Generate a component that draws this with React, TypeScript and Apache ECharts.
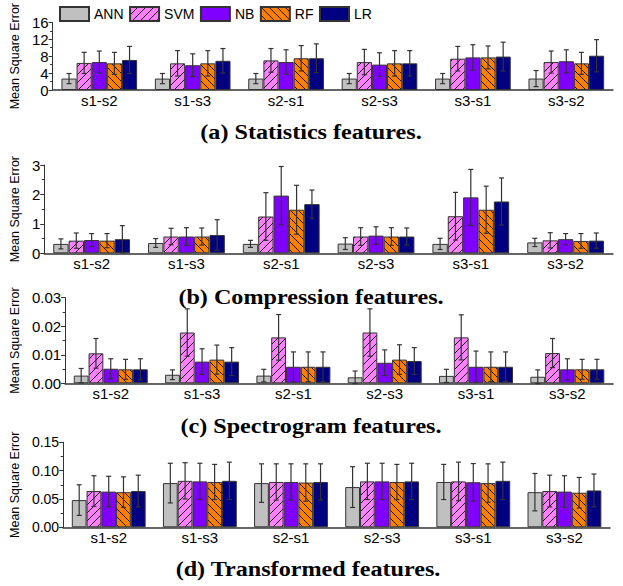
import React, { useEffect, useRef } from "react";
import * as echarts from "echarts";

const models = ["ANN", "SVM", "NB", "RF", "LR"];
const categories = ["s1-s2", "s1-s3", "s2-s1", "s2-s3", "s3-s1", "s3-s2"];
const colors = ["#c0c0c0", "#ff80ff", "#8000ff", "#ff8000", "#000080"];

// (a) Statistics features
const statMean = [
  [2.7, 2.7, 2.7, 2.7, 2.7, 2.7],
  [6.4, 6.3, 7.0, 6.6, 7.4, 6.6],
  [6.6, 5.85, 6.6, 6.0, 7.7, 6.8],
  [6.3, 6.3, 7.5, 6.3, 7.7, 6.3],
  [7.1, 6.9, 7.5, 6.3, 7.9, 8.1],
];
const statErr = [
  [1.2, 1.2, 1.2, 1.2, 1.2, 1.9],
  [2.5, 3.0, 2.8, 3.0, 2.9, 2.6],
  [2.6, 2.7, 2.9, 2.8, 3.0, 2.7],
  [2.6, 3.0, 3.0, 3.0, 2.7, 2.6],
  [3.2, 2.9, 3.4, 3.0, 3.4, 3.8],
];
// (b) Compression features
const compMean = [
  [0.32, 0.35, 0.32, 0.33, 0.32, 0.37],
  [0.43, 0.57, 1.25, 0.57, 1.26, 0.44],
  [0.45, 0.57, 1.96, 0.6, 1.9, 0.48],
  [0.43, 0.57, 1.48, 0.57, 1.48, 0.42],
  [0.48, 0.62, 1.67, 0.57, 1.76, 0.43],
];
const compErr = [
  [0.17, 0.15, 0.12, 0.2, 0.19, 0.14],
  [0.26, 0.28, 0.81, 0.3, 0.81, 0.26],
  [0.22, 0.3, 0.99, 0.3, 0.95, 0.19],
  [0.24, 0.29, 0.83, 0.3, 0.8, 0.25],
  [0.46, 0.52, 0.48, 0.29, 0.8, 0.26],
];
// (c) Spectrogram features
const specMean = [
  [0.0027, 0.003, 0.0027, 0.0021, 0.0026, 0.0023],
  [0.0105, 0.0178, 0.0161, 0.0178, 0.0161, 0.0106],
  [0.0051, 0.0076, 0.0058, 0.0072, 0.0058, 0.0049],
  [0.0049, 0.0083, 0.0058, 0.0083, 0.0058, 0.0049],
  [0.0049, 0.0076, 0.0058, 0.0078, 0.0058, 0.0049],
];
const specErr = [
  [0.0025, 0.0017, 0.0022, 0.0022, 0.0023, 0.0024],
  [0.0052, 0.0083, 0.008, 0.0083, 0.0079, 0.0051],
  [0.0035, 0.0045, 0.0052, 0.0045, 0.0055, 0.0037],
  [0.0035, 0.0051, 0.0052, 0.0052, 0.0052, 0.0035],
  [0.0037, 0.0049, 0.0052, 0.0047, 0.0052, 0.0035],
];
// (d) Transformed features
const transMean = [
  [0.048, 0.078, 0.078, 0.071, 0.08, 0.062],
  [0.064, 0.082, 0.08, 0.081, 0.081, 0.064],
  [0.063, 0.081, 0.08, 0.081, 0.0795, 0.063],
  [0.062, 0.08, 0.079, 0.08, 0.078, 0.061],
  [0.064, 0.082, 0.08, 0.081, 0.082, 0.065],
];
const transErr = [
  [0.027, 0.035, 0.034, 0.036, 0.031, 0.033],
  [0.027, 0.032, 0.032, 0.032, 0.034, 0.028],
  [0.027, 0.032, 0.032, 0.032, 0.033, 0.028],
  [0.027, 0.031, 0.033, 0.031, 0.034, 0.027],
  [0.028, 0.033, 0.032, 0.032, 0.033, 0.029],
];

const titles = [
  "(a) Statistics features.",
  "(b) Compression features.",
  "(c) Spectrogram features.",
  "(d) Transformed features.",
];
const yMax = [16, 3, 0.03, 0.15];
const yInterval = [4, 1, 0.01, 0.05];
const yDecimals = [0, 0, 2, 2];

const panels = [
  { mean: statMean, err: statErr },
  { mean: compMean, err: compErr },
  { mean: specMean, err: specErr },
  { mean: transMean, err: transErr },
];

// layout
const grids = [
  { left: 49.5, right: 10, top: 3.3, height: 86.7 },
  { left: 41, right: 10, top: 165, height: 88.3 },
  { left: 59.3, right: 10, top: 297.7, height: 85.6 },
  { left: 59.3, right: 13, top: 442.3, height: 85 },
];
const nameGaps = [23.5, 15, 33, 33];
const titleY = [132, 297, 426, 569];
const titleX = [311, 311, 311, 308];
const tickFont = [15, 15, 15, 14];
const GROUP = 0.81;

function hatch(color: string, dir: number) {
  const c = document.createElement("canvas");
  const s = 8;
  c.width = s;
  c.height = s;
  const ctx = c.getContext("2d")!;
  ctx.fillStyle = color;
  ctx.fillRect(0, 0, s, s);
  ctx.strokeStyle = "#111";
  ctx.lineWidth = 1;
  ctx.beginPath();
  if (dir > 0) {
    ctx.moveTo(-1, s + 1);
    ctx.lineTo(s + 1, -1);
    ctx.moveTo(-1, 1);
    ctx.lineTo(1, -1);
    ctx.moveTo(s - 1, s + 1);
    ctx.lineTo(s + 1, s - 1);
  } else {
    ctx.moveTo(-1, -1);
    ctx.lineTo(s + 1, s + 1);
    ctx.moveTo(s - 1, -1);
    ctx.lineTo(s + 1, 1);
    ctx.moveTo(-1, s - 1);
    ctx.lineTo(1, s + 1);
  }
  ctx.stroke();
  return { image: c, repeat: "repeat", imageWidth: s, imageHeight: s } as any;
}

export default function App() {
  const ref = useRef<HTMLDivElement>(null);
  useEffect(() => {
    if (!ref.current) return;
    const chart = echarts.init(ref.current, null, { renderer: "svg" });
    const fills: any[] = [
      colors[0],
      hatch(colors[1], 1),
      colors[2],
      hatch(colors[3], -1),
      colors[4],
    ];
    const series: any[] = [];
    panels.forEach((p, pi) => {
      models.forEach((m, mi) => {
        series.push({
          type: "bar",
          name: m,
          xAxisIndex: pi,
          yAxisIndex: pi,
          data: p.mean[mi],
          barGap: "0%",
          barCategoryGap: ((1 - GROUP) * 100).toFixed(0) + "%",
          itemStyle: { color: fills[mi], borderColor: "#333", borderWidth: 1 },
          emphasis: { disabled: true },
        });
      });
      const ebData: number[][] = [];
      models.forEach((m, mi) => {
        categories.forEach((c, ci) => {
          ebData.push([ci, p.mean[mi][ci], p.err[mi][ci], mi]);
        });
      });
      series.push({
        type: "custom",
        name: "err" + pi,
        xAxisIndex: pi,
        yAxisIndex: pi,
        z: 10,
        data: ebData,
        encode: { x: 0, y: 1 },
        renderItem: (params: any, api: any) => {
          const cat = api.value(0);
          const v = api.value(1);
          const e = api.value(2);
          const k = api.value(3);
          const c = api.coord([cat, v]);
          const band = api.size([1, 0])[0];
          const gw = band * GROUP;
          const bw = gw / 5;
          const x = c[0] - gw / 2 + bw * (k + 0.5);
          const yt = api.coord([cat, v + e])[1];
          const yb = api.coord([cat, v - e])[1];
          const cap = 2.5;
          const st = { stroke: "#333", lineWidth: 1.2 };
          return {
            type: "group",
            children: [
              { type: "line", shape: { x1: x, y1: yt, x2: x, y2: yb }, style: st },
              { type: "line", shape: { x1: x - cap, y1: yt, x2: x + cap, y2: yt }, style: st },
              { type: "line", shape: { x1: x - cap, y1: yb, x2: x + cap, y2: yb }, style: st },
            ],
          };
        },
      });
    });

    const option: any = {
      animation: false,
      backgroundColor: "#fff",
      legend: {
        data: models,
        top: 1,
        left: 54,
        icon: "rect",
        itemWidth: 29,
        itemHeight: 14,
        itemGap: 5.5,
        textStyle: { fontFamily: "Liberation Sans", fontSize: 14, color: "#000" },
        selectedMode: false,
      },
      grid: grids.map((g) => ({ ...g, containLabel: false })),
      xAxis: grids.map((g, i) => ({
        type: "category",
        gridIndex: i,
        data: categories,
        axisLine: { lineStyle: { color: "#333", width: 1.5 } },
        axisTick: { show: false },
        axisLabel: {
          color: "#000",
          fontFamily: "Liberation Sans",
          fontSize: 15,
          margin: 3,
        },
      })),
      yAxis: grids.map((g, i) => ({
        type: "value",
        gridIndex: i,
        min: 0,
        max: yMax[i],
        interval: yInterval[i],
        name: "Mean Square Error",
        nameLocation: "middle",
        nameRotate: 90,
        nameGap: nameGaps[i],
        nameTextStyle: { fontFamily: "Liberation Sans", fontSize: 12.5, color: "#000" },
        axisLine: { show: true, lineStyle: { color: "#333", width: 1 } },
        axisTick: { show: true, length: 4, lineStyle: { color: "#333" } },
        minorTick: { show: true, splitNumber: 2, length: 2.5, lineStyle: { color: "#333" } },
        splitLine: { show: false },
        axisLabel: {
          color: "#000",
          fontFamily: "Liberation Sans",
          fontSize: tickFont[i],
          margin: 4,
          formatter: (v: number) => v.toFixed(yDecimals[i]),
        },
      })),
      graphic: titles.map((t, i) => ({
        type: "text",
        x: titleX[i],
        y: titleY[i],
        scaleX: 1.15,
        style: {
          text: t,
          fontFamily: "Liberation Serif",
          fontWeight: "bold",
          fontSize: 21,
          fill: "#000",
          align: "center",
          verticalAlign: "middle",
        },
      })),
      series,
    };
    chart.setOption(option);
    return () => chart.dispose();
  }, []);
  return (
    <div
      ref={ref}
      style={{ position: "absolute", left: 0, top: 0, width: 623, height: 586, background: "#fff" }}
    />
  );
}
